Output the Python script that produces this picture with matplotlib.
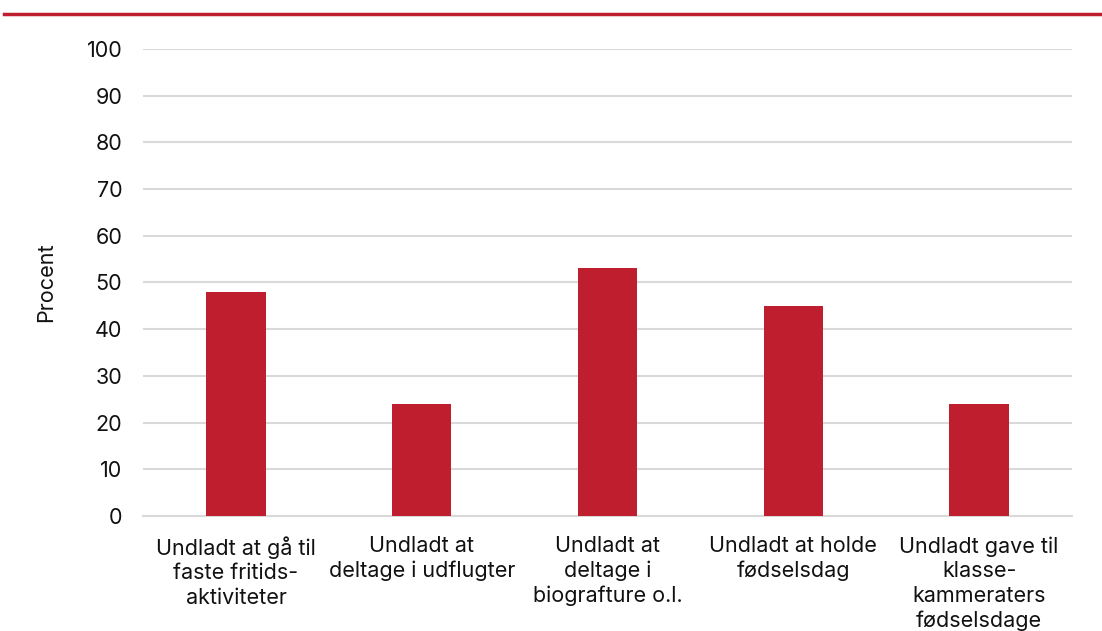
import numpy as np
import matplotlib.pyplot as plt
from matplotlib.lines import Line2D

plt.rcParams["font.family"] = ["Inter", "DejaVu Sans"]

# Data
categories = [
    "Undladt at gå til\nfaste fritids-\naktiviteter",
    "Undladt at\ndeltage i udflugter",
    "Undladt at\ndeltage i\nbiografture o.l.",
    "Undladt at holde\nfødselsdag",
    "Undladt gave til\nklasse-\nkammeraters\nfødselsdage",
]
values = [48, 24, 53, 45, 24]

RED = "#BE1E2D"
GRID = "#D9D9D9"
TXT = "#111111"
FS = 15.5

fig = plt.figure(figsize=(11.02, 6.31), dpi=100)
ax = fig.add_axes([0.1298, 0.1823, 0.843, 0.7400])

x = np.arange(len(categories))
ax.bar(x, values, width=0.32, color=RED, zorder=3)

ax.set_xlim(-0.5, len(categories) - 0.5)
ax.set_ylim(0, 100)
ax.set_yticks(range(0, 101, 10))
ax.yaxis.grid(True, color=GRID, linewidth=1.5, zorder=0)
ax.set_xticks(x)
ax.set_xticklabels(categories, fontsize=FS, linespacing=1.28, color=TXT)
ax.tick_params(axis="y", labelsize=FS, length=0, pad=15, labelcolor=TXT)
ax.tick_params(axis="x", length=0, pad=14.5)

for s in ["top", "right", "left"]:
    ax.spines[s].set_visible(False)
ax.spines["bottom"].set_color(GRID)
ax.spines["bottom"].set_linewidth(1.5)

ax.set_ylabel("Procent", fontsize=FS, labelpad=22, color=TXT)

# red rule at the top
fig.add_artist(Line2D([0.004, 1.0], [1 - 14 / 631, 1 - 14 / 631],
                      transform=fig.transFigure, color=RED, linewidth=2.5))

fig.savefig("out.png", dpi=100)
